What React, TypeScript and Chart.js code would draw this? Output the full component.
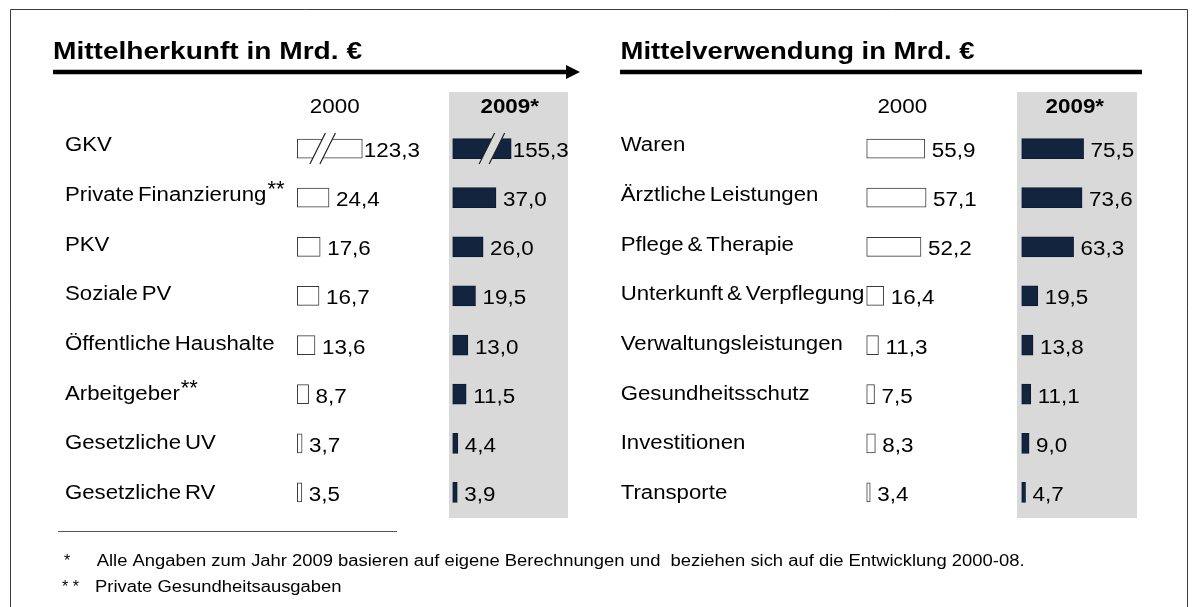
import React, { useEffect, useRef } from 'react';
import { Chart, registerables } from 'chart.js';

Chart.register(...registerables);

// ---------- data ----------
const titles = ['Mittelherkunft in Mrd. €', 'Mittelverwendung in Mrd. €'];
const columnHeaders = ['2000', '2009*'];

const leftCategories = [
  'GKV',
  'Private Finanzierung',
  'PKV',
  'Soziale PV',
  'Öffentliche Haushalte',
  'Arbeitgeber',
  'Gesetzliche UV',
  'Gesetzliche RV',
];
const leftMarks = ['', '**', '', '', '', '**', '', ''];
const left2000 = [123.3, 24.4, 17.6, 16.7, 13.6, 8.7, 3.7, 3.5];
const left2009 = [155.3, 37.0, 26.0, 19.5, 13.0, 11.5, 4.4, 3.9];

const rightCategories = [
  'Waren',
  'Ärztliche Leistungen',
  'Pflege & Therapie',
  'Unterkunft & Verpflegung',
  'Verwaltungsleistungen',
  'Gesundheitsschutz',
  'Investitionen',
  'Transporte',
];
const right2000 = [55.9, 57.1, 52.2, 16.4, 11.3, 7.5, 8.3, 3.4];
const right2009 = [75.5, 73.6, 63.3, 19.5, 13.8, 11.1, 9.0, 4.7];

const footnoteMarks = ['*', '* *'];
const footnoteTexts = [
  'Alle Angaben zum Jahr 2009 basieren auf eigene Berechnungen und  beziehen sich auf die Entwicklung 2000-08.',
  'Private Gesundheitsausgaben',
];

// values above this threshold are drawn as broken bars of BREAK_LEN units
const BREAK_THRESHOLD = 100;
const BREAK_LEN = 50;

// ---------- style / layout ----------
const W = 1197;
const H = 607;
const FONT = '"Liberation Sans", Arial, Helvetica, sans-serif';
const NAVY = '#13243f';
const GREY = '#d9d9d9';
const TXT_SX = 1.11;
const NUM_SX = 1.12;
const LABEL_Y0 = 151.2;
const LABEL_STEP = 49.7;

const COLS = [
  { id: 'xL0', start: 297.3, ppu: 1.3, fill: '#ffffff', border: '#3a3a3a', thick: 19, bg: '#ffffff', breakAt: 0.39 },
  { id: 'xL9', start: 452.7, ppu: 1.17, fill: NAVY, border: '#0d1b31', thick: 20, bg: GREY, breakAt: 0.67 },
  { id: 'xR0', start: 866.7, ppu: 1.04, fill: '#ffffff', border: '#3a3a3a', thick: 19, bg: '#ffffff', breakAt: 0.5 },
  { id: 'xR9', start: 1021.7, ppu: 0.82, fill: NAVY, border: '#0d1b31', thick: 20, bg: GREY, breakAt: 0.5 },
];
const SERIES = [left2000, left2009, right2000, right2009];

const fmt = (v: number) => v.toFixed(1).replace('.', ',');

function text(
  ctx: CanvasRenderingContext2D,
  s: string,
  x: number,
  y: number,
  font: string,
  sx = 1,
  align: CanvasTextAlign = 'left',
  wordSpacing = '0px'
) {
  ctx.save();
  ctx.font = font;
  ctx.fillStyle = '#000';
  ctx.textBaseline = 'alphabetic';
  ctx.textAlign = align;
  (ctx as any).wordSpacing = wordSpacing;
  const w = ctx.measureText(s).width * sx;
  ctx.translate(x, y);
  ctx.scale(sx, 1);
  ctx.fillText(s, 0, 0);
  ctx.restore();
  return w;
}

function fitText(ctx: CanvasRenderingContext2D, s: string, x: number, y: number, font: string, width: number) {
  ctx.save();
  ctx.font = font;
  const sx = width / ctx.measureText(s).width;
  ctx.restore();
  return text(ctx, s, x, y, font, sx);
}

const infographic = {
  id: 'infographic',
  beforeDraw(chart: any) {
    const ctx: CanvasRenderingContext2D = chart.ctx;
    ctx.save();
    ctx.fillStyle = '#ffffff';
    ctx.fillRect(0, 0, W, H);

    // outer frame (bottom edge lies outside the picture)
    ctx.strokeStyle = '#3c3c3c';
    ctx.lineWidth = 1;
    ctx.beginPath();
    ctx.moveTo(10.5, H);
    ctx.lineTo(10.5, 9.5);
    ctx.lineTo(1187.5, 9.5);
    ctx.lineTo(1187.5, H);
    ctx.stroke();

    // grey highlight boxes for 2009 columns
    ctx.fillStyle = GREY;
    ctx.fillRect(449, 92, 119, 426);
    ctx.fillRect(1017, 92, 120, 426);

    // titles
    const tf = `bold 24px ${FONT}`;
    fitText(ctx, titles[0], 53, 59, tf, 309);
    fitText(ctx, titles[1], 620.5, 59, tf, 354);

    // title rules
    ctx.strokeStyle = '#000';
    ctx.lineWidth = 4.5;
    ctx.beginPath();
    ctx.moveTo(53, 72);
    ctx.lineTo(569, 72);
    ctx.moveTo(620, 72);
    ctx.lineTo(1142, 72);
    ctx.stroke();
    ctx.fillStyle = '#000';
    ctx.beginPath();
    ctx.moveTo(566, 65);
    ctx.lineTo(580, 72);
    ctx.lineTo(566, 79);
    ctx.closePath();
    ctx.fill();

    // column headers
    const hf = `20px ${FONT}`;
    const hbf = `bold 20px ${FONT}`;
    text(ctx, columnHeaders[0], 334.7, 113, hf, NUM_SX, 'center');
    text(ctx, columnHeaders[1], 509.7, 113, hbf, NUM_SX, 'center');
    text(ctx, columnHeaders[0], 902.3, 113, hf, NUM_SX, 'center');
    text(ctx, columnHeaders[1], 1074.8, 113, hbf, NUM_SX, 'center');

    // category labels
    const lf = `20px ${FONT}`;
    leftCategories.forEach((c, i) => {
      const y = LABEL_Y0 + LABEL_STEP * i;
      const w = text(ctx, c, 65, y, lf, TXT_SX, 'left', '-2px');
      if (leftMarks[i]) text(ctx, leftMarks[i], 65 + w + 1, y - 5, `22px ${FONT}`, 1.0);
    });
    rightCategories.forEach((c, i) => {
      const y = LABEL_Y0 + LABEL_STEP * i;
      text(ctx, c, 620.7, y, lf, TXT_SX, 'left', '-2px');
    });

    // footnote rule and footnotes
    ctx.strokeStyle = '#555';
    ctx.lineWidth = 1;
    ctx.beginPath();
    ctx.moveTo(58, 531.5);
    ctx.lineTo(397, 531.5);
    ctx.stroke();
    const ff = `16px ${FONT}`;
    text(ctx, footnoteMarks[0], 64, 566, ff, 1);
    text(ctx, footnoteTexts[0], 96.7, 566, ff, 1.15);
    text(ctx, footnoteMarks[1], 62, 592, ff, 1);
    text(ctx, footnoteTexts[1], 95, 592, ff, 1.15);
    ctx.restore();
  },
  afterDatasetsDraw(chart: any) {
    const ctx: CanvasRenderingContext2D = chart.ctx;
    const nf = `20px ${FONT}`;
    chart.data.datasets.forEach((ds: any, di: number) => {
      const meta = chart.getDatasetMeta(di);
      const col = COLS[di];
      const raw = SERIES[di];
      meta.data.forEach((bar: any, i: number) => {
        const broken = raw[i] > BREAK_THRESHOLD;
        if (broken) {
          const cx = bar.base + col.breakAt * (bar.x - bar.base);
          const cy = bar.y;
          const k = 0.5;
          const g = 10;
          const half = bar.height / 2 + 1.5;
          ctx.save();
          ctx.fillStyle = col.bg;
          ctx.beginPath();
          ctx.moveTo(cx - g / 2 - half * k, cy + half);
          ctx.lineTo(cx + g / 2 - half * k, cy + half);
          ctx.lineTo(cx + g / 2 + half * k, cy - half);
          ctx.lineTo(cx - g / 2 + half * k, cy - half);
          ctx.closePath();
          ctx.fill();
          ctx.strokeStyle = '#222';
          ctx.lineWidth = 1.2;
          const ext = 15.5;
          ctx.beginPath();
          ctx.moveTo(cx - g / 2 - ext * k, cy + ext);
          ctx.lineTo(cx - g / 2 + ext * k, cy - ext);
          ctx.moveTo(cx + g / 2 - ext * k, cy + ext);
          ctx.lineTo(cx + g / 2 + ext * k, cy - ext);
          ctx.stroke();
          ctx.restore();
        }
        const gap = broken ? 1.5 : 7;
        text(ctx, fmt(raw[i]), bar.x + gap, bar.y + 8.5, nf, NUM_SX);
      });
    });
  },
};

export default function App() {
  const ref = useRef<HTMLCanvasElement | null>(null);

  useEffect(() => {
    document.body.style.margin = '0';
    const canvas = ref.current;
    if (!canvas) return;

    const scales: any = {
      y: { type: 'category', display: false, offset: true, grid: { display: false } },
    };
    COLS.forEach((c) => {
      scales[c.id] = {
        type: 'linear',
        display: false,
        position: 'bottom',
        min: -c.start / c.ppu,
        max: (W - c.start) / c.ppu,
      };
    });

    const datasets = SERIES.map((vals, di) => ({
      label: `${di < 2 ? 'Mittelherkunft' : 'Mittelverwendung'} ${columnHeaders[di % 2]}`,
      data: vals.map((v) => (v > BREAK_THRESHOLD ? BREAK_LEN : v)),
      xAxisID: COLS[di].id,
      yAxisID: 'y',
      backgroundColor: COLS[di].fill,
      borderColor: COLS[di].border,
      borderWidth: 1,
      borderSkipped: false,
      barThickness: COLS[di].thick,
      grouped: false,
    }));

    const chart = new Chart(canvas, {
      type: 'bar',
      data: { labels: leftCategories, datasets },
      options: {
        animation: false,
        responsive: false,
        devicePixelRatio: 1,
        indexAxis: 'y',
        events: [],
        layout: { padding: { top: 124, bottom: 90, left: 0, right: 0 } },
        plugins: {
          legend: { display: false },
          tooltip: { enabled: false },
          title: { display: false },
        },
        scales,
      } as any,
      plugins: [infographic],
    });
    return () => chart.destroy();
  }, []);

  return (
    <div style={{ position: 'fixed', left: 0, top: 0, width: W, height: H, background: '#fff' }}>
      <canvas ref={ref} width={W} height={H} style={{ display: 'block', width: W, height: H }} />
    </div>
  );
}
